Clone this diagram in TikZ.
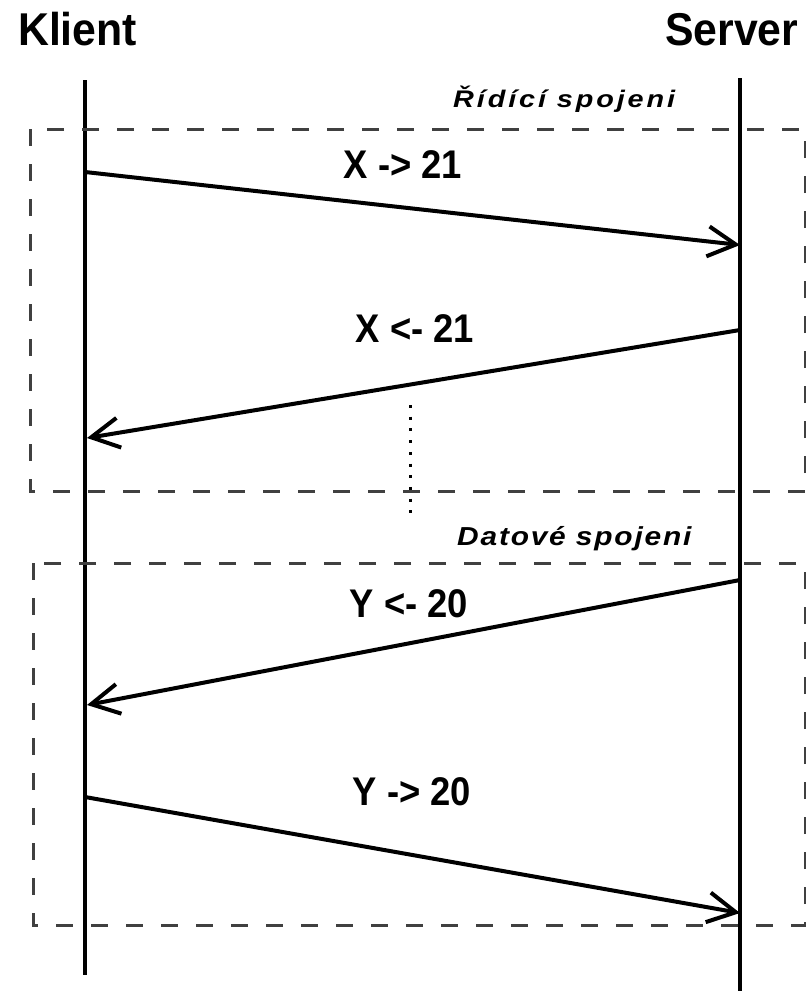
\documentclass[tikz,border=0pt]{standalone}
\usepackage{fontspec}
\setmainfont{Liberation Sans}
\usetikzlibrary{arrows.meta}
\begin{document}
\begin{tikzpicture}[x=1pt,y=-1pt]
  \tikzstyle{hlava}=[font=\fontsize{46}{50}\selectfont\bfseries, anchor=base west, inner sep=0pt, xscale=0.93]
  \tikzstyle{zprava}=[font=\fontsize{40}{44}\selectfont\bfseries, anchor=base, inner sep=0pt, xscale=0.91]
  \tikzstyle{spojeni}=[anchor=base west, inner sep=0pt]
  \tikzstyle{osa}=[line width=4pt]
  \tikzstyle{sipka}=[line width=4pt, -{Straight Barb[length=28pt,width=30pt]}]
  \tikzstyle{ramec}=[black!75, line width=3pt, dash pattern=on 17pt off 18pt]

  \useasboundingbox (0,0) rectangle (806,991);

  % hlavicky
  \node[hlava] (klient) at (18,45) {Klient};
  \node[hlava] (server) at (665,45) {Server};

  % casove osy
  \coordinate (k0) at (85,80);  \coordinate (k1) at (85,975);
  \coordinate (s0) at (740,78); \coordinate (s1) at (740,991);
  \draw[osa] (k0) -- (k1);
  \draw[osa] (s0) -- (s1);

  % ramce spojeni
  \draw[ramec] (30,129) rectangle (805,491);
  \draw[ramec] (33,563) rectangle (805,925);
  \node[spojeni, xscale=1.2, font=\fontsize{24}{26}\selectfont\bfseries\itshape\addfontfeatures{LetterSpace=10}] (ridici) at (453,107) {Řídící spojeni};
  \node[spojeni, xscale=1.15, font=\fontsize{26}{28}\selectfont\bfseries\itshape\addfontfeatures{LetterSpace=6}] (datove) at (457,545) {Datové spojeni};

  % zpravy
  \coordinate (a1) at (85,172);  \coordinate (b1) at (740,245);
  \coordinate (a2) at (740,330); \coordinate (b2) at (87,438);
  \coordinate (a3) at (740,580); \coordinate (b3) at (87,705);
  \coordinate (a4) at (85,797);  \coordinate (b4) at (740,913);
  \draw[sipka] (a1) -- (b1);
  \draw[sipka] (a2) -- (b2);
  \draw[sipka] (a3) -- (b3);
  \draw[sipka] (a4) -- (b4);
  \node[zprava] (m1) at (403,178) {X -> 21};
  \node[zprava] (m2) at (415,342) {X <- 21};
  \node[zprava] (m3) at (409,617) {Y <- 20};
  \node[zprava] (m4) at (412,805) {Y -> 20};

  % tecky mezi spojenimi
  \draw[line width=3pt, dash pattern=on 3pt off 8.7pt] (410,405) -- (410,518);
\end{tikzpicture}
\end{document}
